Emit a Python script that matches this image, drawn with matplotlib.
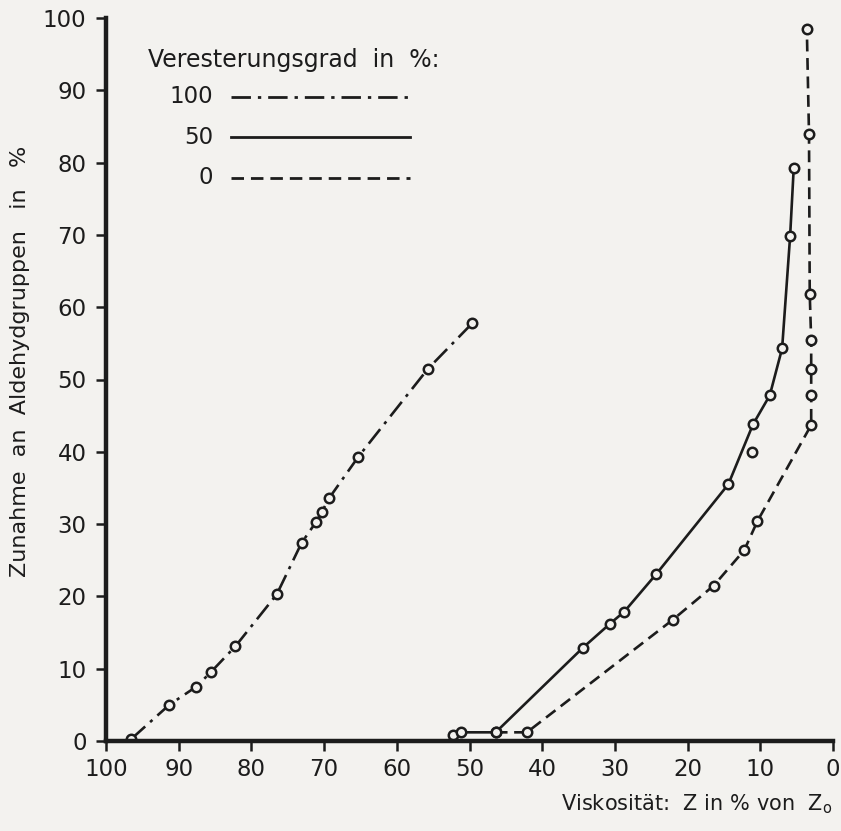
import matplotlib
matplotlib.use("Agg")
import matplotlib.pyplot as plt

# Veresterungsgrad 100 %
x100 = [96.5, 91.3, 87.6, 85.6, 82.2, 76.5, 73.1, 71.1, 70.3, 69.3, 65.3, 55.7, 49.6]
y100 = [0.3, 5.0, 7.5, 9.5, 13.1, 20.3, 27.4, 30.3, 31.7, 33.6, 39.3, 51.5, 57.8]

# Veresterungsgrad 50 %
x50 = [52.3, 51.2, 46.4, 34.4, 30.7, 28.7, 24.3, 14.4, 11.0, 8.7, 7.0, 5.9, 5.4]
y50 = [0.8, 1.2, 1.2, 12.9, 16.2, 17.9, 23.1, 35.5, 43.8, 47.8, 54.3, 69.8, 79.3]
x50_extra = [11.2]
y50_extra = [40.0]

# Veresterungsgrad 0 %
x0 = [46.4, 42.1, 22.0, 16.4, 12.2, 10.4, 3.0, 3.0, 3.0, 3.0, 3.2, 3.3, 3.6]
y0 = [1.2, 1.2, 16.8, 21.5, 26.4, 30.4, 43.7, 47.9, 51.5, 55.4, 61.8, 83.9, 98.5]

ticks = [100, 90, 80, 70, 60, 50, 40, 30, 20, 10, 0]

plt.rcParams["font.family"] = "DejaVu Sans"
bg = "#f3f2ef"
ink = "#1c1c1c"

fig = plt.figure(figsize=(8.41, 8.31), dpi=100, facecolor=bg)
ax = fig.add_axes([106 / 841, 90 / 831, 727 / 841, 723 / 831])
ax.set_facecolor(bg)

mk = dict(marker="o", markersize=6.8, markerfacecolor=bg, markeredgecolor=ink,
          markeredgewidth=1.8, color=ink, linewidth=1.9)

dashdot = (0, (7, 2.5, 1.2, 2.5))
dashed = (0, (4.5, 2.5))

ax.plot(x100, y100, linestyle=dashdot, **mk)
ax.plot(x50, y50, linestyle="-", **mk)
ax.plot(x50_extra, y50_extra, linestyle="none", **mk)
ax.plot(x0, y0, linestyle=dashed, **mk)

ax.set_xlim(100, 0)
ax.set_ylim(0, 100)
ax.set_xticks(ticks)
ax.set_yticks(ticks)

for s in ["top", "right"]:
    ax.spines[s].set_visible(False)
for s in ["left", "bottom"]:
    ax.spines[s].set_linewidth(3.2)
    ax.spines[s].set_color(ink)
    ax.spines[s].set_capstyle("projecting")

ax.tick_params(axis="both", direction="out", length=7, width=1.8, colors=ink,
               labelsize=16.5)
ax.tick_params(axis="x", pad=5)
ax.tick_params(axis="y", pad=7)

ax.set_ylabel("Zunahme  an  Aldehydgruppen   in   %", fontsize=16, color=ink)
ax.yaxis.set_label_coords(-0.105, 0.525)
fig.text(0.99, 0.018, "Viskosität:  Z in % von  Z$_\\mathregular{o}$",
         ha="right", va="bottom", fontsize=15, color=ink)

# legend drawn by hand, as in the original figure
ax.text(0.058, 0.942, "Veresterungsgrad  in  %:", transform=ax.transAxes,
        fontsize=17, color=ink, ha="left", va="center")
styles = [("100", dashdot), ("50", "-"), ("0", dashed)]
for i, (lab, ls) in enumerate(styles):
    yy = 0.891 - i * 0.056
    ax.text(0.147, yy, lab, transform=ax.transAxes, fontsize=16.5, color=ink,
            ha="right", va="center")
    ax.plot([0.172, 0.418], [yy, yy], transform=ax.transAxes, color=ink,
            linewidth=2.0, linestyle=ls, clip_on=False)

fig.savefig("out.png", dpi=100, facecolor=bg)
